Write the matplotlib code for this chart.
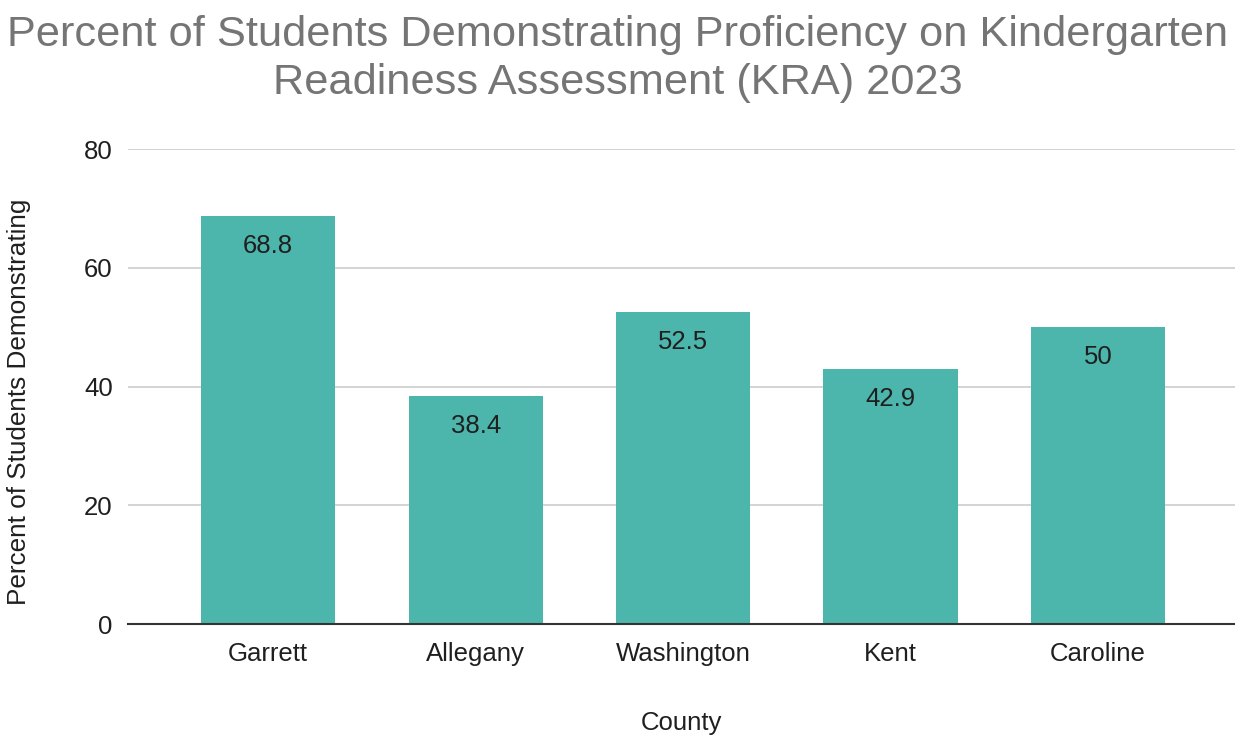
import matplotlib
matplotlib.use("Agg")
import matplotlib.pyplot as plt

# data
counties = ["Garrett", "Allegany", "Washington", "Kent", "Caroline"]
pct = [68.8, 38.4, 52.5, 42.9, 50]
yticks = [0, 20, 40, 60, 80]

plt.rcParams['font.family'] = ['Liberation Sans', 'DejaVu Sans']
txt = "#1f1f1f"

fig = plt.figure(figsize=(12.35, 7.37), dpi=100)
ax = fig.add_axes([0.1036, 0.1533, 0.8964, 0.6445])

x = range(len(counties))
bars = ax.bar(x, pct, width=0.647, color="#4db6ac", zorder=3)
for b, v in zip(bars, pct):
    ax.annotate(f"{v:g}", (b.get_x() + b.get_width() / 2, v),
                xytext=(0, -30), textcoords="offset pixels",
                ha="center", va="center", fontsize=18.5, color=txt, zorder=4)

ax.set_xlim(-0.676, 4.66)
ax.set_ylim(0, 80)
ax.set_yticks(yticks)
ax.set_xticks(list(x))
ax.set_xticklabels(counties)
ax.tick_params(axis="both", length=0, labelsize=18.5, colors=txt)
ax.tick_params(axis="y", pad=11)
ax.tick_params(axis="x", pad=13)
ax.grid(axis="y", color="#cccccc", linewidth=1.2, zorder=0)
for s in ["top", "right", "left"]:
    ax.spines[s].set_visible(False)
ax.spines["bottom"].set_color("#333333")
ax.spines["bottom"].set_linewidth(1.5)
ax.spines["bottom"].set_zorder(5)

ax.set_ylabel("Percent of Students Demonstrating", fontsize=18.8, color=txt, labelpad=38, y=0.467)
ax.set_xlabel("County", fontsize=18.5, color=txt, labelpad=32)

fig.suptitle("Percent of Students Demonstrating Proficiency on Kindergarten\nReadiness Assessment (KRA) 2023",
             x=0.5, y=0.979, fontsize=31.2, color="#757575", linespacing=1.25, va="top")

fig.savefig("out.png", dpi=100)
